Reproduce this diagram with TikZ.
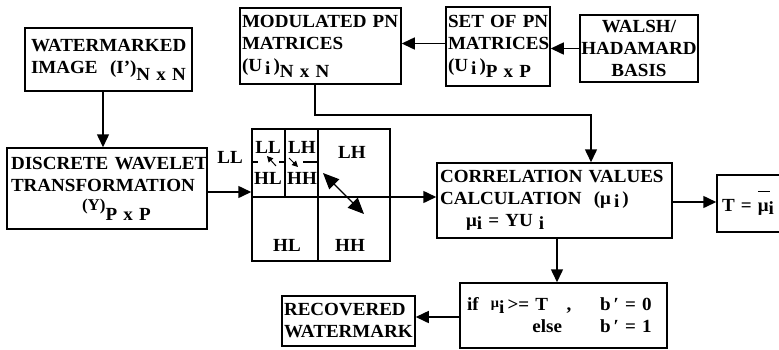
\documentclass[tikz,border=0pt]{standalone}
\usepackage{fontspec}
\setmainfont{Liberation Serif}[FakeStretch=1.03]
\usetikzlibrary{arrows.meta}
\newcommand\lo[2]{\raisebox{-#1}{#2}}
\begin{document}
\begin{tikzpicture}[x=1pt,y=-1pt,
  every node/.style={font=\fontsize{18.5}{22}\selectfont\bfseries},
  box/.style 2 args={draw, line width=1.5pt, minimum width=#1, minimum height=#2, inner ysep=0pt},
  arr/.style={line width=1.5pt, -{Triangle[length=13pt,width=12pt]}},
  lbl/.style={inner sep=0pt},
  thin/.style={line width=1.1pt}
]
\useasboundingbox (0,0) rectangle (779,349);

% boxes
\node[box={167pt}{63pt}, inner xsep=6pt, text width=155pt, align=left] (wm) at (108.5,59.5)
  {WATERMARKED\\IMAGE\ \ (I')\lo{7pt}{N~x~N}};
\node[box={161pt}{76pt}, inner xsep=2pt, text width=157pt, align=left] (mod) at (320.5,46)
  {MODULATED~PN\\MATRICES\\(U\,\lo{3pt}{i}\,)\lo{6pt}{N~x~N}};
\node[box={104pt}{79pt}, inner xsep=2pt, text width=100pt, align=left] (set) at (498,46.5)
  {SET~OF~PN\\MATRICES\\(U\,\lo{3pt}{i}\,)\lo{6pt}{P~x~P}};
\node[box={118pt}{67pt}, inner xsep=1pt, text width=116pt, align=center] (walsh) at (639,48.5)
  {WALSH/\\HADAMARD\\BASIS};
\node[box={200pt}{81pt}, inner xsep=4pt, text width=192pt, align=left] (dwt) at (107,188.5)
  {DISCRETE~WAVELET\\TRANSFORMATION\\\hspace*{71pt}\raisebox{3pt}{\fontsize{16.5}{16.5}\selectfont(Y)}\lo{7pt}{P~x~P}};
\node[box={138pt}{132pt}] (grid) at (321,195) {};
\node[box={235pt}{75pt}, inner xsep=3pt, text width=229pt, align=left] (corr) at (554.5,200.5)
  {CORRELATION~VALUES\\CALCULATION\ \ (μ\,\lo{3pt}{i}\,)\\\hspace*{26pt}μ\lo{3pt}{i} = YU \lo{3pt}{i}};
\node[box={86pt}{57pt}, inner xsep=5pt, text width=76pt, align=left] (tbox) at (760,203.5)
  {T = \rlap{\raisebox{1.05em}{\rule{12pt}{1.2pt}}}μ\lo{3pt}{i}};
\node[box={207pt}{65pt}, inner xsep=7pt, text width=193pt, align=left] (ifb) at (563.5,315.5)
  {\makebox[133pt][l]{if\ \ \raisebox{3pt}{\fontsize{14}{14}\selectfont μ}\lo{3pt}{i}\,>= T\ \ \ ,}b\,′ = 0\\
   \makebox[133pt][r]{else\hspace{38pt}}b\,′ = 1};
\node[box={133pt}{50pt}, inner xsep=2pt, text width=129pt, align=left] (rec) at (348.5,321)
  {RECOVERED\\WATERMARK};

% subband grid internals
\draw[thin] (318,129) -- (318,261);
\draw[thin] (252,197) -- (390,197);
\draw[thin] (285,129) -- (285,197);
\draw[thin] (252,162) -- (258,162);
\draw[thin] (279,162) -- (284,162);
\draw[thin] (303,162) -- (318,162);
\node[lbl] (ll2) at (268,147) {LL};
\node[lbl] (lh2) at (302,147) {LH};
\node[lbl] (hl2) at (268,178) {HL};
\node[lbl] (hh2) at (302,178) {HH};
\node[lbl] (lh1) at (352,152) {LH};
\node[lbl] (hl1) at (287,245) {HL};
\node[lbl] (hh1) at (350,245) {HH};
\node[lbl] (llout) at (230,157) {LL};
\draw[line width=1pt, -{Triangle[length=6pt,width=6pt]}] (276,166) -- (267,156);
\draw[line width=1pt, -{Triangle[length=6pt,width=6pt]}] (289,158) -- (298,167);
\draw[line width=1.3pt, {Triangle[length=16pt,width=14pt]}-{Triangle[length=16pt,width=14pt]}] (323,173) -- (364,214);

% connectors
\draw[arr] ([xshift=-5.5pt]wm.south) -- ([xshift=-5.5pt]wm.south |- dwt.north);
\draw[arr] ([yshift=3pt]set.west) -- ([yshift=3pt]set.west -| mod.east);
\draw[arr] (walsh.west) -- (walsh.west -| set.east);
\coordinate (bend) at (591,115);
\draw[arr] ([xshift=-5.5pt]mod.south) |- (bend) -- (bend |- corr.north);
\draw[arr] ([yshift=-3.5pt]dwt.east) -- ([yshift=-3.5pt]dwt.east -| grid.west);
\draw[arr] ([yshift=-2pt]grid.east) -- ([yshift=-2pt]grid.east -| corr.west);
\draw[arr] ([yshift=-1.5pt]corr.east) -- ([yshift=-1.5pt]corr.east -| tbox.west);
\draw[arr] ([xshift=2.5pt]corr.south) -- ([xshift=2.5pt]corr.south |- ifb.north);
\draw[arr] ([yshift=-1.5pt]ifb.west) -- ([yshift=-1.5pt]ifb.west -| rec.east);
\end{tikzpicture}
\end{document}
